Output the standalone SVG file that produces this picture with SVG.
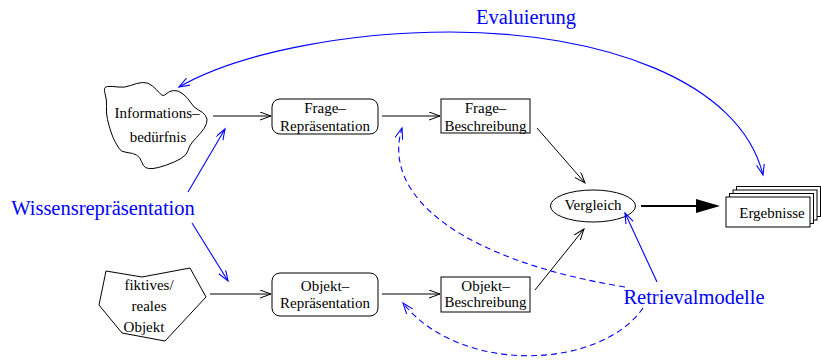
<svg xmlns="http://www.w3.org/2000/svg" width="821" height="364" viewBox="0 0 821 364">
<style>
text{font-family:"Liberation Serif","Times New Roman",serif;}
.t{font-size:15px;fill:#000;text-anchor:middle;}
.b{font-size:20.5px;fill:#0000ff;}
.shape{fill:#fff;stroke:#000;stroke-width:1;}
.k{fill:none;stroke:#000;stroke-width:1;}
.bl{fill:none;stroke:#0000ff;stroke-width:1.1;}
.dash{stroke-dasharray:6,4;}
</style>
<defs>
<marker id="ak" markerUnits="userSpaceOnUse" markerWidth="14" markerHeight="10" refX="11" refY="4" orient="auto-start-reverse" viewBox="0 0 14 10">
<path d="M0,0 L11,4 L0,8" fill="none" stroke="#000" stroke-width="1"/>
</marker>
<marker id="ab" markerUnits="userSpaceOnUse" markerWidth="14" markerHeight="10" refX="11" refY="4" orient="auto-start-reverse" viewBox="0 0 14 10">
<path d="M0,0 L11,4 L0,8" fill="none" stroke="#0000ff" stroke-width="1.1"/>
</marker>
</defs>

<g id="informationsbeduerfnis">
<path class="shape" d="M107.5,86.5 Q112,86 118,87 Q124,88 130.5,85.5 Q137,83 142.5,82.5 Q148,82 152.5,86 Q157,90 160,93.5 Q163,97 166,94 Q169,91 173.5,90.5 Q178,90 183,94 Q188,98 191,103 Q194,108 198.5,110 Q203,112 205.5,115.5 Q208,119 206.5,123.5 Q205,128 200.5,133 Q196,138 192.5,142 Q189,146 188,150.5 Q187,155 181,158.5 Q175,162 166.5,165 Q158,168 153,168.5 Q148,169 145.5,167.5 Q143,166 141.5,161.5 Q140,157 136.5,155 Q133,153 127,152.5 Q121,152 119,148.5 Q117,145 115,141.5 Q113,138 111,132 Q109,126 107.5,119.5 Q106,113 106.5,106.5 Q107,100 105,93.5 Q103,87 107.5,86.5 Z"/>
<text class="t" x="157" y="118">Informations–</text>
<text class="t" x="158" y="142">bedürfnis</text>
</g>

<g id="objekt">
<polygon class="shape" points="106,271 142,277 190,268 206,297 165,341 122,333 99,305"/>
<text class="t" x="149" y="290">fiktives/</text>
<text class="t" x="149" y="311">reales</text>
<text class="t" x="144" y="332">Objekt</text>
</g>

<g id="frage-repraesentation">
<rect class="shape" x="272" y="99" width="106" height="35" rx="8"/>
<text class="t" x="325" y="113">Frage–</text>
<text class="t" x="325" y="131">Repräsentation</text>
</g>

<g id="frage-beschreibung">
<rect class="shape" x="441" y="99" width="89" height="34"/>
<text class="t" x="485.5" y="113">Frage–</text>
<text class="t" x="485.5" y="131" textLength="82" lengthAdjust="spacingAndGlyphs">Beschreibung</text>
</g>

<g id="objekt-repraesentation">
<rect class="shape" x="272" y="273" width="106" height="43" rx="8"/>
<text class="t" x="325" y="291">Objekt–</text>
<text class="t" x="325" y="308">Repräsentation</text>
</g>

<g id="objekt-beschreibung">
<rect class="shape" x="441" y="277" width="89" height="35"/>
<text class="t" x="485.5" y="291">Objekt–</text>
<text class="t" x="485.5" y="307" textLength="82" lengthAdjust="spacingAndGlyphs">Beschreibung</text>
</g>

<g id="vergleich">
<ellipse class="shape" cx="593" cy="206" rx="42.5" ry="16"/>
<text class="t" x="593" y="210">Vergleich</text>
</g>

<g id="ergebnisse">
<rect class="shape" x="736.5" y="186.5" width="84" height="30"/>
<rect class="shape" x="733" y="190" width="84" height="30"/>
<rect class="shape" x="729.5" y="193.5" width="84" height="30"/>
<rect class="shape" x="726" y="197" width="84" height="30"/>
<text class="t" x="772" y="218">Ergebnisse</text>
</g>

<g id="labels">
<text class="b" x="526" y="24" text-anchor="middle">Evaluierung</text>
<text class="b" x="103" y="215" text-anchor="middle">Wissensrepräsentation</text>
<text class="b" x="694" y="304" text-anchor="middle">Retrievalmodelle</text>
</g>

<g id="connectors">
<line class="k" x1="213" y1="116" x2="271" y2="116" marker-end="url(#ak)"/>
<line class="k" x1="382" y1="116" x2="440" y2="116" marker-end="url(#ak)"/>
<line class="k" x1="210" y1="294" x2="271" y2="294" marker-end="url(#ak)"/>
<line class="k" x1="382" y1="294" x2="440" y2="294" marker-end="url(#ak)"/>
<line class="k" x1="537" y1="128" x2="585" y2="183" marker-end="url(#ak)"/>
<line class="k" x1="535" y1="290" x2="584" y2="229" marker-end="url(#ak)"/>
<line x1="641" y1="206" x2="697" y2="206" stroke="#000" stroke-width="2"/>
<polygon points="696,199 720,206 696,213" fill="#000"/>
<path class="bl" d="M179,87 C240,52 350,32 450,32 C600,32 740,80 763,175" marker-start="url(#ab)" marker-end="url(#ab)"/>
<line class="bl" x1="188" y1="192" x2="225" y2="129" marker-end="url(#ab)"/>
<line class="bl" x1="192" y1="223" x2="228" y2="281" marker-end="url(#ab)"/>
<line class="bl" x1="657" y1="282" x2="625" y2="213" marker-end="url(#ab)"/>
<path class="bl dash" d="M625,287 C470,262 380,200 402,128" marker-end="url(#ab)"/>
<path class="bl dash" d="M643,308 C600,370 460,375 403,303" marker-end="url(#ab)"/>
</g>
</svg>
